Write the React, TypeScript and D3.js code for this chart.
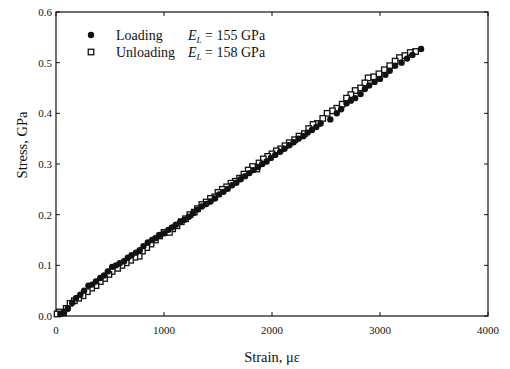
import React from "react";
import * as d3 from "d3";

const xTicks = [0, 1000, 2000, 3000, 4000];
const yTicks = [0.0, 0.1, 0.2, 0.3, 0.4, 0.5, 0.6];

const loading: [number, number][] = [
  [40, 0.004], [75, 0.008], [110, 0.015], [150, 0.026], [185, 0.035], [225, 0.042], [260, 0.05],
  [300, 0.06], [335, 0.062], [370, 0.068], [410, 0.075], [445, 0.08], [480, 0.088], [520, 0.097],
  [555, 0.1], [590, 0.104], [630, 0.108], [665, 0.115], [700, 0.12], [740, 0.125], [775, 0.13],
  [810, 0.138], [850, 0.145], [890, 0.15], [925, 0.154], [960, 0.16], [1000, 0.163], [1040, 0.17],
  [1075, 0.175], [1110, 0.18], [1150, 0.186], [1190, 0.19], [1230, 0.196], [1270, 0.203],
  [1310, 0.21], [1350, 0.216], [1390, 0.221], [1430, 0.226], [1470, 0.232], [1510, 0.24],
  [1550, 0.245], [1590, 0.251], [1630, 0.258], [1670, 0.263], [1710, 0.27], [1750, 0.276],
  [1790, 0.282], [1830, 0.288], [1870, 0.294], [1910, 0.3], [1950, 0.305], [1990, 0.312],
  [2030, 0.318], [2075, 0.324], [2115, 0.33], [2160, 0.337], [2200, 0.343], [2245, 0.35],
  [2290, 0.355], [2330, 0.362], [2370, 0.367], [2410, 0.373], [2450, 0.38], [2540, 0.388],
  [2600, 0.4], [2640, 0.408], [2690, 0.42], [2730, 0.425], [2770, 0.43], [2820, 0.438],
  [2860, 0.448], [2900, 0.455], [2950, 0.462], [3000, 0.468], [3050, 0.476], [3090, 0.484],
  [3140, 0.494], [3200, 0.5], [3250, 0.508], [3300, 0.515], [3380, 0.527],
];

const unloading: [number, number][] = [
  [3330, 0.522], [3280, 0.52], [3230, 0.514], [3180, 0.51], [3140, 0.503], [3090, 0.494],
  [3040, 0.486], [2990, 0.478], [2940, 0.472], [2890, 0.47], [2860, 0.46], [2820, 0.45],
  [2770, 0.445], [2730, 0.437], [2690, 0.43], [2650, 0.418], [2600, 0.41], [2560, 0.405],
  [2510, 0.4], [2470, 0.39], [2420, 0.38], [2380, 0.378], [2340, 0.37], [2300, 0.36],
  [2250, 0.355], [2210, 0.348], [2160, 0.342], [2120, 0.336], [2080, 0.33], [2040, 0.326],
  [2000, 0.32], [1960, 0.315], [1920, 0.31], [1880, 0.302], [1860, 0.29], [1820, 0.295],
  [1780, 0.288], [1740, 0.28], [1700, 0.272], [1660, 0.266], [1620, 0.262], [1580, 0.255],
  [1540, 0.25], [1500, 0.244], [1470, 0.235], [1430, 0.232], [1390, 0.225], [1350, 0.22],
  [1310, 0.212], [1280, 0.205], [1240, 0.2], [1200, 0.192], [1160, 0.186], [1120, 0.178],
  [1080, 0.172], [1050, 0.165], [1000, 0.165], [960, 0.158], [920, 0.15], [880, 0.142],
  [840, 0.135], [800, 0.128], [770, 0.118], [730, 0.116], [690, 0.11], [650, 0.105],
  [610, 0.1], [570, 0.094], [520, 0.088], [490, 0.082], [450, 0.074], [410, 0.068],
  [370, 0.06], [330, 0.055], [290, 0.048], [250, 0.04], [210, 0.035], [170, 0.03],
  [130, 0.025], [95, 0.015], [70, 0.006], [30, 0.008], [10, 0.004],
];

const legendItems = [
  { label: "Loading", modulus: "155 GPa", filled: true },
  { label: "Unloading", modulus: "158 GPa", filled: false },
];

const W = 510;
const H = 369;
const M = { left: 56, right: 488, top: 12, bottom: 316 };
const FONT = "'Liberation Serif', 'Times New Roman', serif";

export default function App() {
  const x = d3.scaleLinear().domain([0, 4000]).range([M.left, M.right]);
  const y = d3.scaleLinear().domain([0, 0.6]).range([M.bottom, M.top]);
  const sq = 5.5;
  return (
    <svg
      width={W}
      height={H}
      style={{ position: "absolute", left: 0, top: 0, background: "#fff" }}
      fontFamily={FONT}
    >
      <rect
        x={M.left}
        y={M.top}
        width={M.right - M.left}
        height={M.bottom - M.top}
        fill="none"
        stroke="#111"
        strokeWidth={1.2}
      />
      {yTicks.map((t) => (
        <g key={"y" + t}>
          <line x1={M.left} x2={M.left + 4} y1={y(t)} y2={y(t)} stroke="#111" />
          <line x1={M.right} x2={M.right - 4} y1={y(t)} y2={y(t)} stroke="#111" />
          <text x={M.left - 4} y={y(t) + 4} fontSize={11} textAnchor="end" fill="#111">
            {t.toFixed(1)}
          </text>
        </g>
      ))}
      {xTicks.map((t) => (
        <g key={"x" + t}>
          <line x1={x(t)} x2={x(t)} y1={M.bottom} y2={M.bottom - 4} stroke="#111" />
          <line x1={x(t)} x2={x(t)} y1={M.top} y2={M.top + 4} stroke="#111" />
          <text x={x(t)} y={M.bottom + 18} fontSize={11} textAnchor="middle" fill="#111">
            {t}
          </text>
        </g>
      ))}
      <text x={(M.left + M.right) / 2} y={362} fontSize={14.5} textAnchor="middle" fill="#111">
        Strain, με
      </text>
      <text
        transform={`translate(27,145) rotate(-90)`}
        fontSize={14.5}
        textAnchor="middle"
        fill="#111"
      >
        Stress, GPa
      </text>
      {unloading.map((d, i) => (
        <rect
          key={"u" + i}
          x={x(d[0]) - sq / 2}
          y={y(d[1]) - sq / 2}
          width={sq}
          height={sq}
          fill="#fff"
          stroke="#111"
          strokeWidth={1.3}
        />
      ))}
      {loading.map((d, i) => (
        <circle key={"l" + i} cx={x(d[0])} cy={y(d[1])} r={3.2} fill="#111" />
      ))}
      {legendItems.map((it, i) => {
        const cy = 35 + i * 17;
        return (
          <g key={it.label}>
            {it.filled ? (
              <circle cx={91} cy={cy} r={3.2} fill="#111" />
            ) : (
              <rect x={91 - sq / 2} y={cy - sq / 2} width={sq} height={sq} fill="#fff" stroke="#111" strokeWidth={1.3} />
            )}
            <text x={116} y={cy + 5} fontSize={14} fill="#111">
              {it.label}
            </text>
            <text x={188} y={cy + 5} fontSize={14} fill="#111">
              <tspan fontStyle="italic">E</tspan>
              <tspan fontStyle="italic" fontSize={9} dy={3}>L</tspan>
              <tspan dy={-3}> = {it.modulus}</tspan>
            </text>
          </g>
        );
      })}
    </svg>
  );
}
